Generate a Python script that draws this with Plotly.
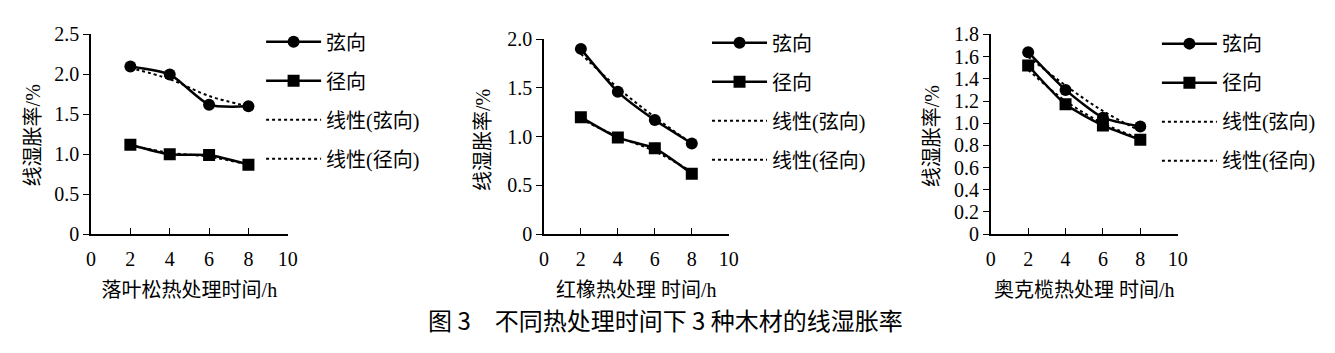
import plotly.graph_objects as go

hours = [2, 4, 6, 8]

# 落叶松
larch_tan = [2.10, 2.00, 1.62, 1.60]
larch_rad = [1.12, 1.00, 0.99, 0.87]
larch_tan_trend = [2.08, 1.94, 1.73, 1.60]
larch_rad_trend = [1.11, 1.02, 0.97, 0.87]

# 红橡
oak_tan = [1.90, 1.46, 1.17, 0.93]
oak_rad = [1.20, 0.99, 0.88, 0.62]
oak_tan_trend = [1.85, 1.50, 1.20, 0.93]
oak_rad_trend = [1.18, 1.00, 0.85, 0.64]

# 奥克榄
okan_tan = [1.64, 1.30, 1.05, 0.97]
okan_rad = [1.52, 1.17, 0.98, 0.85]
okan_tan_trend = [1.60, 1.34, 1.11, 0.93]
okan_rad_trend = [1.48, 1.20, 1.00, 0.86]

names = ["弦向", "径向", "线性(弦向)", "线性(径向)"]
xtitles = ["落叶松热处理时间/h", "红橡热处理 时间/h", "奥克榄热处理 时间/h"]
ytitle = "线湿胀率/%"
caption = "图 3　不同热处理时间下 3 种木材的线湿胀率"

x_ticks = [0, 2, 4, 6, 8, 10]
y_ticks_1 = [0, 0.5, 1.0, 1.5, 2.0, 2.5]
y_ticks_2 = [0, 0.5, 1.0, 1.5, 2.0]
y_ticks_3 = [0, 0.2, 0.4, 0.6, 0.8, 1.0, 1.2, 1.4, 1.6, 1.8]
y_ticks_all = [y_ticks_1, y_ticks_2, y_ticks_3]

W, H = 1335, 353
FONT = "Liberation Serif, Noto Sans CJK SC, serif"


def fmt(v):
    return "0" if v == 0 else f"{v:.1f}"


panels = [
    (larch_tan, larch_rad, larch_tan_trend, larch_rad_trend),
    (oak_tan, oak_rad, oak_tan_trend, oak_rad_trend),
    (okan_tan, okan_rad, okan_tan_trend, okan_rad_trend),
]

xdom_px = [(87, 286), (545, 732), (997, 1186)]
ytop_px = [25, 30, 25]
ybot_px = 238
legend_px = [(259, 12), (710, 13), (1165, 14)]
ytitle_px = [(28, 133), (484, 138), (937, 133)]

fig = go.Figure()

for i, (tan, rad, tt, rt) in enumerate(panels):
    ax = "" if i == 0 else str(i + 1)
    lg = "legend" if i == 0 else f"legend{i+1}"
    common = dict(xaxis="x" + ax, yaxis="y" + ax, legend=lg)
    fig.add_trace(go.Scatter(x=hours, y=tan, name=names[0], mode="lines+markers",
                             line=dict(color="black", width=2.5, shape="spline", smoothing=0.6),
                             marker=dict(symbol="circle", size=12, color="black"),
                             legendgroup=f"a{i}", **common))
    fig.add_trace(go.Scatter(x=hours, y=rad, name=names[1], mode="lines+markers",
                             line=dict(color="black", width=2.5, shape="spline", smoothing=0.6),
                             marker=dict(symbol="square", size=12, color="black"),
                             legendgroup=f"b{i}", **common))
    fig.add_trace(go.Scatter(x=hours, y=tt, name=names[2], mode="lines",
                             line=dict(color="black", width=2, dash="dot", shape="spline"),
                             legendgroup=f"c{i}", **common))
    fig.add_trace(go.Scatter(x=hours, y=rt, name=names[3], mode="lines",
                             line=dict(color="black", width=2, dash="dot", shape="spline"),
                             legendgroup=f"d{i}", **common))

    x0, x1 = xdom_px[i]
    xa = dict(domain=[x0 / W, x1 / W], range=[0, 10],
              tickvals=x_ticks, ticktext=[str(v) for v in x_ticks],
              showline=True, linecolor="black", linewidth=1.5,
              ticks="inside", ticklen=6, tickcolor="black", showgrid=False, zeroline=False,
              ticklabelstandoff=6,
              tickfont=dict(family=FONT, size=20, color="black"),
              title=dict(text=xtitles[i], font=dict(family=FONT, size=20, color="black"), standoff=14),
              anchor="y" + ax, fixedrange=True)
    yt = y_ticks_all[i]
    ya = dict(domain=[1 - ybot_px / H, 1 - ytop_px[i] / H], range=[0, yt[-1]],
              tickvals=yt, ticktext=[fmt(v) for v in yt],
              showline=True, linecolor="black", linewidth=1.5,
              ticks="outside", ticklen=6, tickcolor="black", showgrid=False, zeroline=False,
              tickfont=dict(family=FONT, size=20, color="black"),
              anchor="x" + ax, fixedrange=True)
    fig.layout["xaxis" + ax] = xa
    fig.layout["yaxis" + ax] = ya

    lx, ly = legend_px[i]
    fig.layout[lg] = dict(x=lx / W, y=1 - ly / H, xanchor="left", yanchor="top",
                          bgcolor="rgba(0,0,0,0)", tracegroupgap=10, itemwidth=55,
                          font=dict(family=FONT, size=20, color="black"))

    tx, ty = ytitle_px[i]
    fig.add_annotation(x=tx / W, y=1 - ty / H, xref="paper", yref="paper", text=ytitle,
                       textangle=-90, showarrow=False, xanchor="center", yanchor="middle",
                       font=dict(family=FONT, size=20, color="black"))

fig.add_annotation(x=668 / W, y=1 - 329 / H, xref="paper", yref="paper", text=caption,
                   showarrow=False, xanchor="center", yanchor="middle",
                   font=dict(family="Noto Sans CJK SC, serif", size=24, color="black"))

fig.update_layout(width=W, height=H, margin=dict(l=0, r=0, t=0, b=0),
                  paper_bgcolor="white", plot_bgcolor="white", showlegend=True)

fig.write_html("out.html")
